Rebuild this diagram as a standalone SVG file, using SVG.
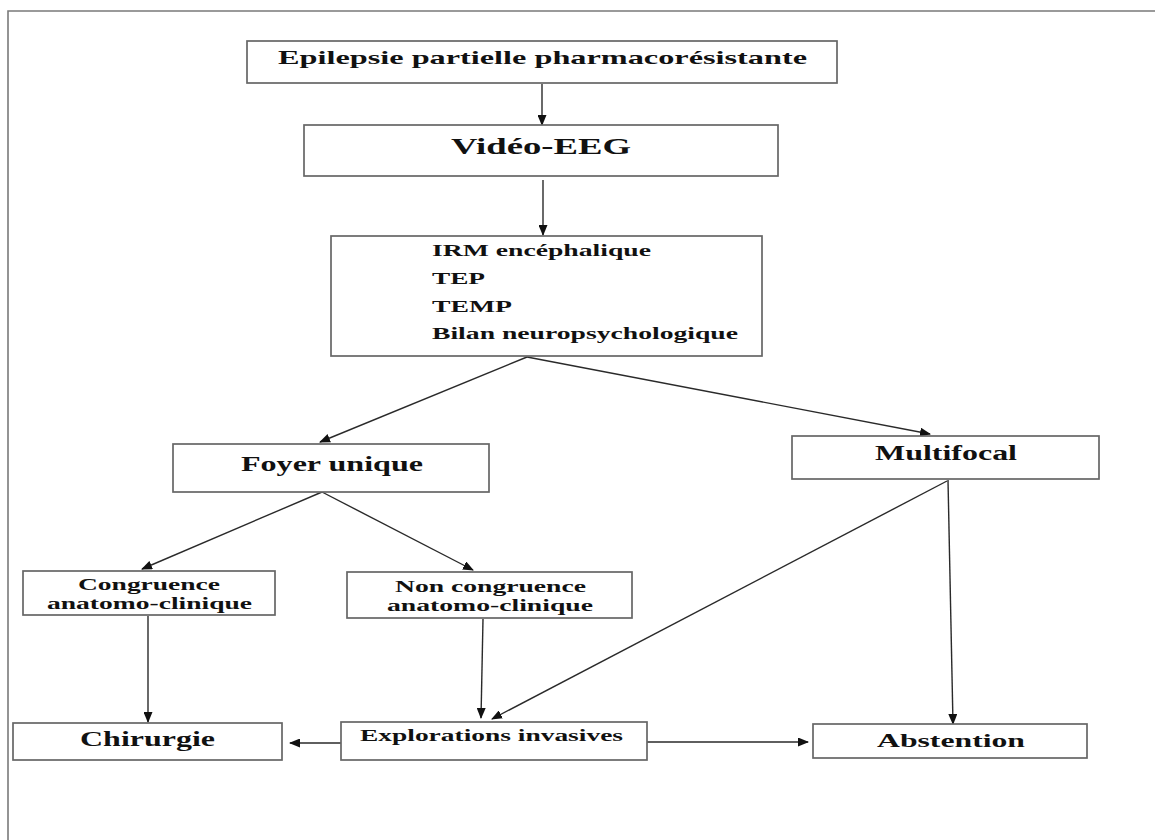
<svg xmlns="http://www.w3.org/2000/svg" width="1155" height="840" viewBox="0 0 1155 840">
<defs>
<style>
.box{fill:#fff;stroke:#666;stroke-width:1.7}
.t{font-family:"Liberation Serif","Times New Roman",serif;font-weight:bold;fill:#111}
.ln{stroke:#2a2a2a;stroke-width:1.4;fill:none}
</style>
<marker id="ah" markerWidth="11" markerHeight="9" refX="10" refY="4.5" orient="auto" markerUnits="userSpaceOnUse">
<path d="M0,0 L11,4.5 L0,9 Z" fill="#111"/>
</marker>
</defs>
<rect width="1155" height="840" fill="#fff"/>
<polyline points="8,840 8,11 1155,11" fill="none" stroke="#7a7a7a" stroke-width="1.6"/>

<g id="connectors">
<line class="ln" x1="542" y1="84" x2="542" y2="125" marker-end="url(#ah)"/>
<line class="ln" x1="543" y1="180" x2="543" y2="235" marker-end="url(#ah)"/>
<line class="ln" x1="527" y1="357" x2="320" y2="442" marker-end="url(#ah)"/>
<line class="ln" x1="527" y1="357" x2="930" y2="434" marker-end="url(#ah)"/>
<line class="ln" x1="322" y1="492" x2="142" y2="569" marker-end="url(#ah)"/>
<line class="ln" x1="322" y1="492" x2="473" y2="570" marker-end="url(#ah)"/>
<line class="ln" x1="148" y1="616" x2="148" y2="722" marker-end="url(#ah)"/>
<line class="ln" x1="483" y1="619" x2="481" y2="718" marker-end="url(#ah)"/>
<line class="ln" x1="947" y1="481" x2="492" y2="719" marker-end="url(#ah)"/>
<line class="ln" x1="948" y1="480" x2="953" y2="724" marker-end="url(#ah)"/>
<line class="ln" x1="341" y1="743" x2="290" y2="743" marker-end="url(#ah)"/>
<line class="ln" x1="647" y1="742" x2="808" y2="742" marker-end="url(#ah)"/>
</g>

<g id="n-epilepsie">
<rect class="box" x="247" y="41" width="590" height="42"/>
<text class="t" x="278" y="64" font-size="19" textLength="529" lengthAdjust="spacingAndGlyphs">Epilepsie partielle pharmacorésistante</text>
</g>
<g id="n-video">
<rect class="box" x="304" y="125" width="474" height="51"/>
<text class="t" x="451" y="154" font-size="24" textLength="180" lengthAdjust="spacingAndGlyphs">Vidéo-EEG</text>
</g>
<g id="n-bilan">
<rect class="box" x="331" y="236" width="431" height="120"/>
<text class="t" x="432" y="256" font-size="16" textLength="219" lengthAdjust="spacingAndGlyphs">IRM encéphalique</text>
<text class="t" x="432" y="284" font-size="16" textLength="53" lengthAdjust="spacingAndGlyphs">TEP</text>
<text class="t" x="432" y="312" font-size="16" textLength="80" lengthAdjust="spacingAndGlyphs">TEMP</text>
<text class="t" x="432" y="339" font-size="16" textLength="306" lengthAdjust="spacingAndGlyphs">Bilan neuropsychologique</text>
</g>
<g id="n-foyer">
<rect class="box" x="173" y="444" width="316" height="48"/>
<text class="t" x="241" y="471" font-size="21" textLength="182" lengthAdjust="spacingAndGlyphs">Foyer unique</text>
</g>
<g id="n-multifocal">
<rect class="box" x="792" y="436" width="307" height="43"/>
<text class="t" x="875" y="460" font-size="20.5" textLength="142" lengthAdjust="spacingAndGlyphs">Multifocal</text>
</g>
<g id="n-congruence">
<rect class="box" x="23" y="571" width="252" height="44"/>
<text class="t" x="78" y="590" font-size="16.5" textLength="142" lengthAdjust="spacingAndGlyphs">Congruence</text>
<text class="t" x="47" y="609" font-size="16.5" textLength="205" lengthAdjust="spacingAndGlyphs">anatomo-clinique</text>
</g>
<g id="n-noncongruence">
<rect class="box" x="347" y="572" width="285" height="46"/>
<text class="t" x="395" y="592" font-size="16.5" textLength="191" lengthAdjust="spacingAndGlyphs">Non congruence</text>
<text class="t" x="387" y="611" font-size="16.5" textLength="206" lengthAdjust="spacingAndGlyphs">anatomo-clinique</text>
</g>
<g id="n-chirurgie">
<rect class="box" x="13" y="723" width="269" height="37"/>
<text class="t" x="80" y="746" font-size="20.5" textLength="135" lengthAdjust="spacingAndGlyphs">Chirurgie</text>
</g>
<g id="n-explorations">
<rect class="box" x="341" y="722" width="306" height="38"/>
<text class="t" x="360" y="741" font-size="17" textLength="263" lengthAdjust="spacingAndGlyphs">Explorations invasives</text>
</g>
<g id="n-abstention">
<rect class="box" x="813" y="724" width="274" height="34"/>
<text class="t" x="877" y="747" font-size="18" textLength="148" lengthAdjust="spacingAndGlyphs">Abstention</text>
</g>
</svg>
